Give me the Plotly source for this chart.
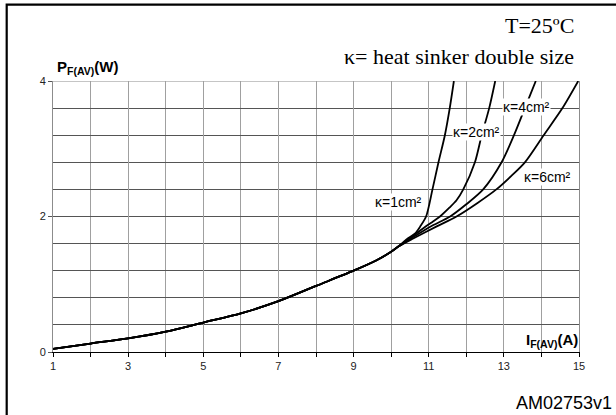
import plotly.graph_objects as go

# ---- data ----
common_I = [1.0, 2.0, 3.0, 4.0, 5.0, 6.0, 7.0, 8.0, 9.0, 9.6, 10.0, 10.2]
common_P = [0.045, 0.125, 0.2, 0.3, 0.435, 0.57, 0.75, 0.975, 1.2, 1.35, 1.48, 1.56]

k1_I = [10.45, 10.64, 10.77, 10.93, 11.1, 11.26, 11.43, 11.56, 11.67]
k1_P = [1.68, 1.75, 1.85, 2.0, 2.4, 2.8, 3.2, 3.6, 4.0]

k2_I = [10.6, 10.9, 11.1, 11.3, 11.55, 11.74, 11.92, 12.23, 12.41, 12.61, 12.77]
k2_P = [1.72, 1.845, 1.92, 2.0, 2.13, 2.24, 2.4, 2.8, 3.2, 3.6, 4.0]

k4_I = [10.6, 11.04, 11.57, 12.0, 12.45, 12.94, 13.27, 13.56, 13.85]
k4_P = [1.7, 1.85, 2.0, 2.18, 2.4, 2.8, 3.2, 3.6, 4.0]

k6_I = [10.6, 11.2, 11.74, 12.3, 12.8, 13.2, 13.56, 14.06, 14.56, 14.98]
k6_P = [1.68, 1.85, 2.0, 2.2, 2.4, 2.6, 2.8, 3.2, 3.6, 4.0]

label_text = ["κ=1cm²", "κ=2cm²", "κ=4cm²", "κ=6cm²"]
label_I = [10.2, 12.27, 13.61, 14.17]
label_P = [2.21, 3.25, 3.62, 2.58]

x_tickvals = [1, 3, 5, 7, 9, 11, 13, 15]
y_tickvals = [0, 2, 4]

fig = go.Figure()

branches = [(k1_I, k1_P), (k2_I, k2_P), (k4_I, k4_P), (k6_I, k6_P)]
for bi, bp in branches:
    fig.add_trace(go.Scatter(
        x=common_I + bi, y=common_P + bp, mode="lines",
        line=dict(color="black", width=1.8, shape="spline", smoothing=0.8),
        showlegend=False, hoverinfo="skip"))

L, R, T, B = 53.3, 579.3, 80.7, 351.7
W, H = 616, 415
pw, ph = R - L, B - T

def px2paper_x(px):
    return (px - L) / pw

def px2paper_y(py):
    return (B - py) / ph

shapes = [
    dict(type="line", xref="paper", yref="y", x0=0, x1=1, y0=2, y1=2,
         line=dict(color="black", width=1), layer="below"),
    dict(type="line", xref="paper", yref="y", x0=0, x1=1, y0=4, y1=4,
         line=dict(color="#8c8c8c", width=1), layer="below"),
    dict(type="rect", xref="paper", yref="paper",
         x0=px2paper_x(7), x1=px2paper_x(640),
         y0=px2paper_y(440), y1=px2paper_y(4.3),
         line=dict(color="black", width=2.2)),
]

annotations = []
for t, xi, yi in zip(label_text, label_I, label_P):
    annotations.append(dict(x=xi, y=yi, xref="x", yref="y", text=t, showarrow=False,
                            font=dict(family="Liberation Sans", size=14, color="black"),
                            bgcolor="white", borderpad=0))

annotations += [
    dict(x=px2paper_x(576), y=px2paper_y(25), xref="paper", yref="paper",
         text="T=25ºC", showarrow=False, xanchor="right", yanchor="middle",
         font=dict(family="Liberation Serif", size=22, color="black")),
    dict(x=px2paper_x(576), y=px2paper_y(56), xref="paper", yref="paper",
         text="κ= heat sinker double size", showarrow=False, xanchor="right", yanchor="middle",
         font=dict(family="Liberation Serif", size=22, color="black")),
    dict(x=px2paper_x(55), y=px2paper_y(67), xref="paper", yref="paper",
         text="<b>P<sub>F(AV)</sub>(W)</b>", showarrow=False, xanchor="left", yanchor="middle",
         font=dict(family="Liberation Sans", size=15, color="black")),
    dict(x=px2paper_x(580), y=px2paper_y(340), xref="paper", yref="paper",
         text="<b>I<sub>F(AV)</sub>(A)</b>", showarrow=False, xanchor="right", yanchor="middle",
         font=dict(family="Liberation Sans", size=15, color="black")),
    dict(x=px2paper_x(614), y=px2paper_y(403), xref="paper", yref="paper",
         text="AM02753v1", showarrow=False, xanchor="right", yanchor="middle",
         font=dict(family="Liberation Sans", size=18, color="black")),
]

fig.update_layout(
    width=W, height=H,
    margin=dict(l=L, r=W - R, t=T, b=H - B, autoexpand=False),
    paper_bgcolor="white", plot_bgcolor="white",
    shapes=shapes, annotations=annotations,
    xaxis=dict(range=[1, 15], tickvals=x_tickvals,
               showgrid=True, gridcolor="#a0a0a0", gridwidth=1,
               minor=dict(dtick=1, tick0=0, showgrid=True, gridcolor="#a0a0a0", gridwidth=1,
                          ticks="outside", ticklen=4, tickcolor="black", tickwidth=1),
               showline=True, linecolor="black", linewidth=1.3,
               ticks="outside", ticklen=4, tickcolor="black", tickwidth=1,
               tickfont=dict(family="Liberation Sans", size=11, color="#222"),
               zeroline=False, fixedrange=True),
    yaxis=dict(range=[0, 4], tickvals=y_tickvals,
               showgrid=False,
               minor=dict(dtick=0.4, tick0=0, showgrid=True, gridcolor="#555555", gridwidth=1, ticks=""),
               showline=True, linecolor="#8c8c8c", linewidth=1, mirror=True,
               ticks="outside", ticklen=4, tickcolor="#555", tickwidth=1,
               tickfont=dict(family="Liberation Sans", size=11, color="#222"),
               zeroline=False, fixedrange=True),
)

fig.write_html("out.html", config={"displayModeBar": False},
               post_script="document.body.style.margin='0';")
